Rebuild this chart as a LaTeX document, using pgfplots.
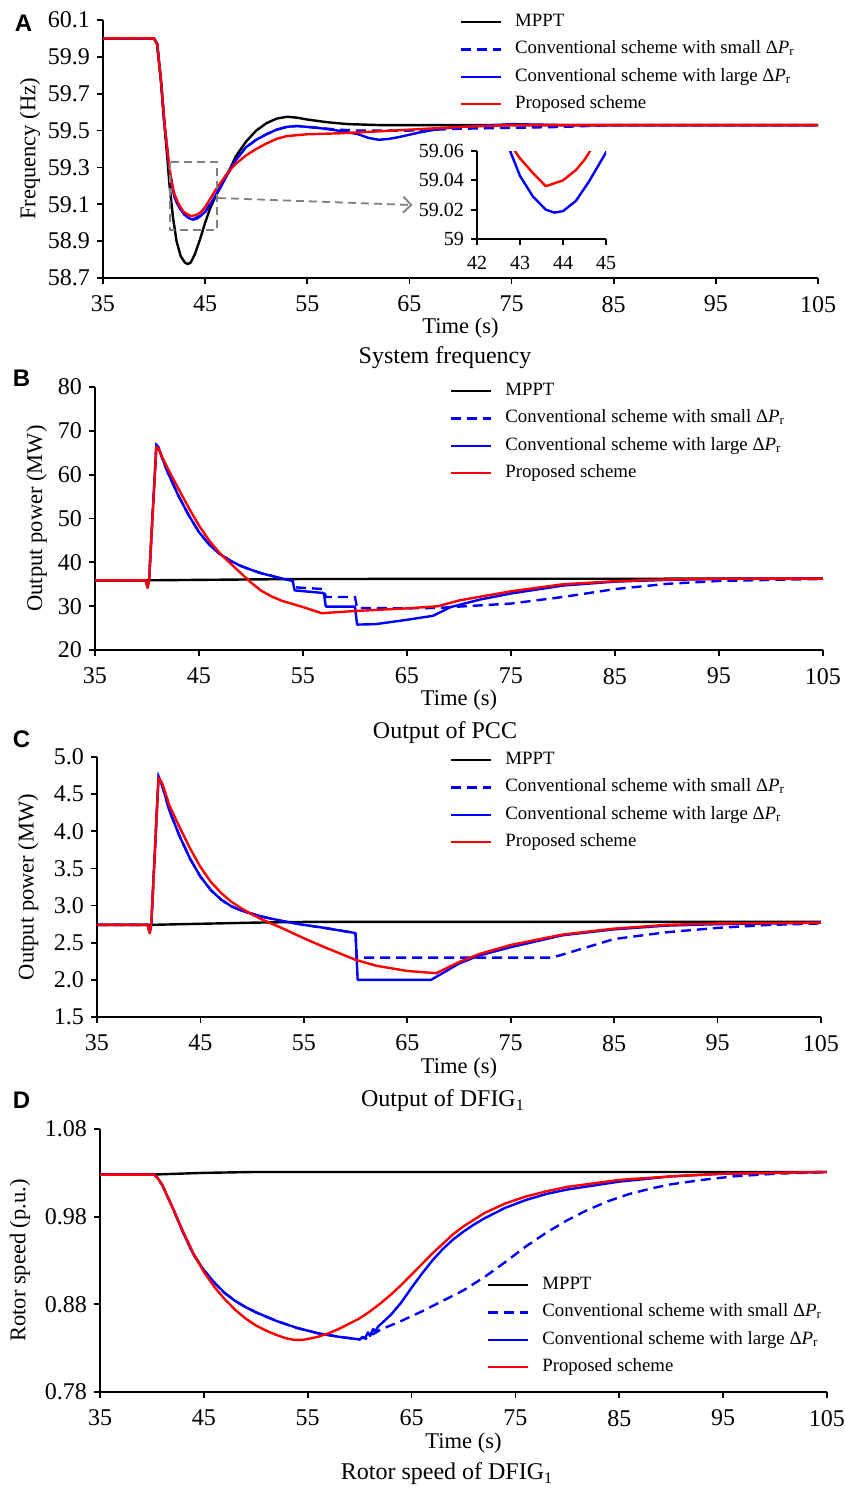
\documentclass[border=0pt]{standalone}
\usepackage{fontspec}
\setmainfont{Liberation Serif}
\newfontfamily\panelfont{Liberation Sans}
\usepackage{pgfplots}
\pgfplotsset{compat=1.18}
\usepackage{pgfplotstable}
\usetikzlibrary{arrows.meta}

% frequency traces, shared by panel A and its zoomed inset
\pgfplotstableread{
t f
35 60
40 60
40.3 59.97
40.7 59.76
41 59.55
41.25 59.42
41.5 59.3
41.75 59.21
42 59.155
42.25 59.12
42.5 59.093
42.88 59.06
43 59.055
43.3 59.045
43.6 59.036
44 59.04
44.3 59.047
44.5 59.054
44.63 59.06
45 59.085
45.5 59.13
46 59.175
46.5 59.215
47 59.255
47.5 59.29
48 59.32
49 59.365
50 59.4
51 59.43
52 59.455
53 59.47
55 59.48
58 59.485
60 59.49
65 59.505
70 59.52
75 59.53
105 59.53
}\freqprop

\pgfplotstableread{
t f
35 60
40 60
40.3 59.97
40.7 59.76
41 59.545
41.25 59.41
41.5 59.29
41.75 59.2
42 59.14
42.25 59.105
42.5 59.08
42.77 59.06
43 59.043
43.3 59.029
43.6 59.02
43.8 59.018
44 59.019
44.3 59.026
44.6 59.039
45 59.059
45.5 59.1
46 59.145
46.5 59.19
47 59.245
47.5 59.29
48 59.34
49 59.41
50 59.45
51 59.48
52 59.505
53 59.52
54 59.525
55 59.52
56 59.515
58 59.5
60 59.48
61 59.46
62 59.45
63 59.455
64 59.465
66 59.49
68 59.51
70 59.52
75 59.535
80 59.53
105 59.53
}\freqlarge

\pgfplotsset{
  panel/.style={
    scale only axis,
    axis x line*=bottom, axis y line*=left,
    axis line style={line width=0.9pt},
    every tick/.style={black, line width=0.9pt},
    tick align=outside,
    major tick length=3pt,
    xmin=35, xmax=105, xtick={35,45,...,105},
    tick label style={font=\fontsize{12}{14}\selectfont},
    xticklabel style={yshift=-2.5pt},
    /pgf/number format/assume math mode=true,
    scaled ticks=false,
    label style={font=\fontsize{11.25}{13}\selectfont},
    xlabel={Time (s)},
    legend cell align=left,
    legend style={draw=none, fill=none, anchor=north west, inner sep=0pt, outer sep=0pt,
      font=\fontsize{9.4}{11}\selectfont, row sep=5.2pt,
      nodes={inner sep=0pt, text height=6.5pt, text depth=2pt},
      /tikz/every odd column/.append style={column sep=6.5pt}},
    legend image code/.code={\draw[##1] (0pt,0pt) -- (20pt,0pt);},
  },
  mppt/.style={black, line width=1.2pt, line join=round},
  small/.style={blue, line width=1.2pt, dash pattern=on 5pt off 3pt},
  large/.style={blue, line width=1.2pt, line join=round},
  prop/.style={red, line width=1.2pt, line join=round},
}

\begin{document}
\begin{tikzpicture}
\useasboundingbox (0,0) rectangle (422.5pt,-745pt);

% ---------------- A: system frequency
\begin{axis}[panel,
  at={(51.5pt,-139pt)}, anchor=south west,
  width=357.5pt, height=129pt,
  ymin=58.7, ymax=60.1,
  ytick={58.7,58.9,59.1,59.3,59.5,59.7,59.9,60.1},
  yticklabel style={/pgf/number format/fixed, /pgf/number format/precision=1},
  ylabel={Frequency (Hz)},
  ylabel style={at={(axis description cs:-0.102,0.5)}, anchor=center},
  xlabel style={at={(axis description cs:0.5,-0.194)}, anchor=center},
  legend style={at={(axis description cs:0.499,1.025)}},
]
\addplot[mppt] coordinates {
(35,60)(40,60)(40.3,59.97)(40.7,59.75)(41,59.54)(41.3,59.35)(41.5,59.21)
(41.85,59.03)(42.2,58.9)(42.6,58.82)(43,58.785)(43.3,58.775)(43.6,58.785)
(44,58.83)(44.5,58.91)(45,59.0)(45.5,59.08)(46,59.14)(46.5,59.2)(47,59.25)
(47.5,59.3)(48,59.36)(49,59.44)(50,59.5)(51,59.54)(52,59.565)(53,59.575)
(54,59.57)(55,59.56)(57,59.545)(59,59.535)(62,59.53)(105,59.53)};
\addlegendentry{MPPT}
\addplot[small] coordinates {
(35,60)(40,60)(40.3,59.97)(40.7,59.76)(41,59.545)(41.5,59.29)(42,59.14)
(42.5,59.08)(43,59.043)(43.8,59.018)(44.6,59.039)(45,59.059)
(46,59.145)(47,59.245)(48,59.34)(49,59.41)(50,59.45)(51,59.48)(52,59.505)
(53,59.52)(54,59.525)(55,59.52)(56,59.515)(58,59.505)(60,59.5)(65,59.5)
(70,59.51)(75,59.515)(80,59.52)(85,59.53)(105,59.53)};
\addlegendentry{Conventional scheme with small Δ\textit{P}\textsubscript{r}}
\addplot[large] table[x=t,y=f] {\freqlarge};
\addlegendentry{Conventional scheme with large Δ\textit{P}\textsubscript{r}}
\addplot[prop] table[x=t,y=f] {\freqprop};
\addlegendentry{Proposed scheme}
\draw[gray, line width=0.9pt, dash pattern=on 4pt off 2.5pt]
  (axis cs:41.56,59.33) rectangle (axis cs:46.16,58.96);
\draw[gray, line width=0.9pt, dash pattern=on 4pt off 2.5pt,
  -{Straight Barb[length=4pt,width=8pt]}]
  (axis cs:46.26,59.134) -- (axis cs:65.3,59.096);
\end{axis}

% inset of panel A
\begin{axis}[
  at={(238.5pt,-119.5pt)}, anchor=south west,
  width=64.5pt, height=44pt, scale only axis,
  axis x line*=bottom, axis y line*=left,
  axis line style={line width=0.9pt},
  every tick/.style={black, line width=0.9pt},
  tick align=outside, major tick length=3pt,
  xmin=42, xmax=45, ymin=59, ymax=59.06,
  xtick={42,43,44,45}, ytick={59,59.02,59.04,59.06},
  tick label style={font=\fontsize{10}{12}\selectfont},
  xticklabel style={yshift=-2pt},
  /pgf/number format/assume math mode=true,
  scaled ticks=false,
  yticklabel style={/pgf/number format/fixed, /pgf/number format/precision=2},
]
\addplot[large] table[x=t,y=f] {\freqlarge};
\addplot[prop] table[x=t,y=f] {\freqprop};
\end{axis}

% ---------------- B: output of PCC
\begin{axis}[panel,
  at={(47.5pt,-325pt)}, anchor=south west,
  width=364pt, height=131.5pt,
  ymin=20, ymax=80, ytick={20,30,...,80},
  ylabel={Output power (MW)},
  ylabel style={at={(axis description cs:-0.08,0.5)}, anchor=center},
  xlabel style={at={(axis description cs:0.5,-0.19)}, anchor=center},
  legend style={at={(axis description cs:0.4876,1.017)}},
]
\addplot[mppt] coordinates {
(35,35.9)(40,35.9)(45,36.0)(50,36.1)(55,36.2)(105,36.3)};
\addlegendentry{MPPT}
\addplot[small] coordinates {
(35,35.9)(39.9,35.9)(40.05,34.2)(40.2,35.9)(40.9,66.8)(41.1,66.3)(41.5,63.5)
(42,60.5)(43,55.3)(44,50.8)(45,46.9)(46,44.0)(47,41.9)(48,40.4)(49,39.2)
(50,38.3)(51,37.5)(52,36.9)(53,36.3)(54,35.8)(54.2,34.3)(57,33.9)(57.2,32.1)
(60,32.1)(60.2,29.6)(65,29.5)(68,29.6)(70,29.9)(75,30.6)(80,32.1)(85,33.9)
(90,35.1)(95,35.75)(100,36.0)(105,36.2)};
\addlegendentry{Conventional scheme with small Δ\textit{P}\textsubscript{r}}
\addplot[large] coordinates {
(35,35.9)(39.9,35.9)(40.05,34.2)(40.2,35.9)(40.9,66.8)(41.1,66.3)(41.5,63.5)
(42,60.5)(43,55.3)(44,50.8)(45,46.9)(46,44.0)(47,41.9)(48,40.4)(49,39.2)
(50,38.3)(51,37.5)(52,36.9)(53,36.3)(54,35.8)(54.2,33.6)(57,33.0)(57.2,29.9)
(60,29.9)(60.2,25.8)(62,25.9)(65,26.9)(67.5,27.8)(69.2,29.8)(72,31.5)
(75,32.9)(80,34.7)(85,35.6)(90,36.0)(95,36.2)(105,36.3)};
\addlegendentry{Conventional scheme with large Δ\textit{P}\textsubscript{r}}
\addplot[prop] coordinates {
(35,35.9)(39.9,35.9)(40.05,34.2)(40.2,35.9)(40.9,66.3)(41.1,66.0)(41.5,63.8)
(42,61.4)(43,56.9)(44,52.5)(45,48.4)(46,44.9)(47,42.1)(48,39.8)(49,37.6)
(50,35.4)(51,33.5)(52,32.2)(53,31.2)(55,29.8)(56.8,28.4)(60,28.9)(65,29.5)
(68,30.0)(70,31.3)(75,33.4)(80,35.0)(85,35.7)(90,36.1)(95,36.25)(105,36.3)};
\addlegendentry{Proposed scheme}
\end{axis}

% ---------------- C: output of DFIG1
\begin{axis}[panel,
  at={(48.5pt,-508.5pt)}, anchor=south west,
  width=362pt, height=130pt,
  ymin=1.5, ymax=5.0, ytick={1.5,2.0,...,5.0},
  yticklabel style={/pgf/number format/fixed, /pgf/number format/fixed zerofill,
    /pgf/number format/precision=1},
  ylabel={Output power (MW)},
  ylabel style={at={(axis description cs:-0.095,0.5)}, anchor=center},
  xlabel style={at={(axis description cs:0.5,-0.197)}, anchor=center},
  legend style={at={(axis description cs:0.4876,1.021)}},
]
\addplot[mppt] coordinates {
(35,2.74)(40,2.74)(45,2.755)(50,2.77)(55,2.78)(105,2.78)};
\addlegendentry{MPPT}
\addplot[small] coordinates {
(35,2.74)(39.9,2.74)(40.1,2.63)(40.25,2.75)(40.95,4.74)(41.2,4.66)(41.5,4.52)
(42,4.28)(43,3.93)(44,3.63)(45,3.39)(46,3.21)(47,3.08)(48,2.99)(49,2.93)
(50,2.89)(51,2.85)(52,2.82)(53,2.79)(54,2.765)(55,2.74)(57,2.7)(60,2.63)
(60.1,2.3)(79,2.3)(80,2.34)(85,2.55)(90,2.64)(95,2.7)(100,2.74)(105,2.76)};
\addlegendentry{Conventional scheme with small Δ\textit{P}\textsubscript{r}}
\addplot[large] coordinates {
(35,2.74)(39.9,2.74)(40.1,2.63)(40.25,2.75)(40.95,4.74)(41.2,4.66)(41.5,4.52)
(42,4.28)(43,3.93)(44,3.63)(45,3.39)(46,3.21)(47,3.08)(48,2.99)(49,2.93)
(50,2.89)(51,2.85)(52,2.82)(53,2.79)(54,2.765)(55,2.74)(57,2.7)(60,2.63)
(60.2,2.0)(67.3,2.0)(70,2.22)(72,2.33)(75,2.44)(80,2.6)(85,2.68)(90,2.73)
(95,2.75)(105,2.77)};
\addlegendentry{Conventional scheme with large Δ\textit{P}\textsubscript{r}}
\addplot[prop] coordinates {
(35,2.74)(39.9,2.74)(40.1,2.63)(40.25,2.75)(40.95,4.72)(41.3,4.65)(42,4.35)
(43,4.05)(44,3.77)(45,3.52)(46,3.32)(47,3.17)(48,3.05)(49,2.96)(50,2.88)
(51,2.81)(52,2.75)(53,2.69)(55,2.56)(57,2.44)(60,2.27)(62,2.19)(65,2.12)
(67.8,2.09)(70,2.24)(72,2.35)(75,2.47)(80,2.61)(85,2.69)(90,2.74)(95,2.76)
(105,2.77)};
\addlegendentry{Proposed scheme}
\end{axis}

% ---------------- D: rotor speed of DFIG1
\begin{axis}[panel,
  at={(50pt,-696pt)}, anchor=south west,
  width=363.5pt, height=131.5pt,
  ymin=0.78, ymax=1.08, ytick={0.78,0.88,0.98,1.08},
  yticklabel style={/pgf/number format/fixed, /pgf/number format/fixed zerofill,
    /pgf/number format/precision=2},
  ylabel={Rotor speed (p.u.)},
  ylabel style={at={(axis description cs:-0.11,0.5)}, anchor=center},
  xlabel style={at={(axis description cs:0.5,-0.194)}, anchor=center},
  legend style={at={(axis description cs:0.5323,0.439)}},
]
\addplot[mppt] coordinates {
(35,1.028)(40,1.028)(45,1.03)(50,1.031)(105,1.031)};
\addlegendentry{MPPT}
\addplot[small] coordinates {
(35,1.028)(40.2,1.028)(40.5,1.025)(41,1.016)(42,0.99)(43,0.962)(44,0.937)
(45,0.919)(46,0.905)(47,0.893)(48,0.884)(49,0.877)(50,0.871)(51,0.866)
(52,0.861)(53,0.857)(54,0.853)(55,0.85)(56,0.847)(57,0.845)(58,0.843)
(59,0.8415)(60,0.84)(60.3,0.842)(60.6,0.841)(61,0.846)(61.3,0.846)(62,0.851)
(64,0.861)(66,0.872)(68,0.884)(70,0.896)(72,0.911)(74,0.928)(76,0.946)
(78,0.962)(80,0.976)(82,0.988)(84,0.998)(86,1.006)(88,1.012)(90,1.017)
(93,1.022)(96,1.026)(100,1.029)(105,1.031)};
\addlegendentry{Conventional scheme with small Δ\textit{P}\textsubscript{r}}
\addplot[large] coordinates {
(35,1.028)(40.2,1.028)(40.5,1.025)(41,1.016)(42,0.99)(43,0.962)(44,0.937)
(45,0.919)(46,0.905)(47,0.893)(48,0.884)(49,0.877)(50,0.871)(51,0.866)
(52,0.861)(53,0.857)(54,0.853)(55,0.85)(56,0.847)(57,0.845)(58,0.843)
(59,0.8415)(60,0.84)(60.3,0.843)(60.5,0.841)(60.8,0.848)(61,0.844)
(61.3,0.852)(61.5,0.849)(61.8,0.855)(62,0.857)(63,0.868)(64,0.882)(65,0.899)
(66,0.915)(67,0.93)(68,0.943)(69,0.954)(70,0.963)(71,0.971)(72,0.978)
(74,0.99)(76,0.999)(78,1.006)(80,1.011)(85,1.02)(90,1.026)(95,1.029)
(100,1.03)(105,1.031)};
\addlegendentry{Conventional scheme with large Δ\textit{P}\textsubscript{r}}
\addplot[prop] coordinates {
(35,1.028)(40.2,1.028)(40.5,1.025)(41,1.016)(42,0.99)(43,0.963)(44,0.938)
(45,0.917)(46,0.9)(47,0.886)(48,0.874)(49,0.864)(50,0.856)(51,0.85)
(52,0.845)(53,0.841)(53.7,0.8395)(54.5,0.8395)(55,0.8405)(56,0.843)
(57,0.847)(58,0.852)(59,0.858)(60,0.864)(61,0.872)(62,0.881)(63,0.891)
(64,0.902)(65,0.914)(66,0.926)(67,0.938)(68,0.949)(69,0.96)(70,0.969)
(72,0.984)(74,0.995)(76,1.003)(78,1.009)(80,1.014)(85,1.022)(90,1.026)
(95,1.029)(100,1.03)(105,1.031)};
\addlegendentry{Proposed scheme}
\end{axis}

% panel letters and captions
\node[font=\panelfont\bfseries\fontsize{12}{14}\selectfont] at (11.75pt,-11.75pt) {A};
\node[font=\panelfont\bfseries\fontsize{12}{14}\selectfont] at (10.75pt,-189pt) {B};
\node[font=\panelfont\bfseries\fontsize{12}{14}\selectfont] at (10.75pt,-369.75pt) {C};
\node[font=\panelfont\bfseries\fontsize{12}{14}\selectfont] at (10.75pt,-550pt) {D};
\node[font=\fontsize{12}{14}\selectfont] at (222.5pt,-179pt) {System frequency};
\node[font=\fontsize{12}{14}\selectfont] at (222.5pt,-366.5pt) {Output of PCC};
\node[font=\fontsize{12}{14}\selectfont] at (221.5pt,-550.5pt) {Output of DFIG\textsubscript{1}};
\node[font=\fontsize{12}{14}\selectfont] at (223.5pt,-737pt) {Rotor speed of DFIG\textsubscript{1}};
\end{tikzpicture}
\end{document}
